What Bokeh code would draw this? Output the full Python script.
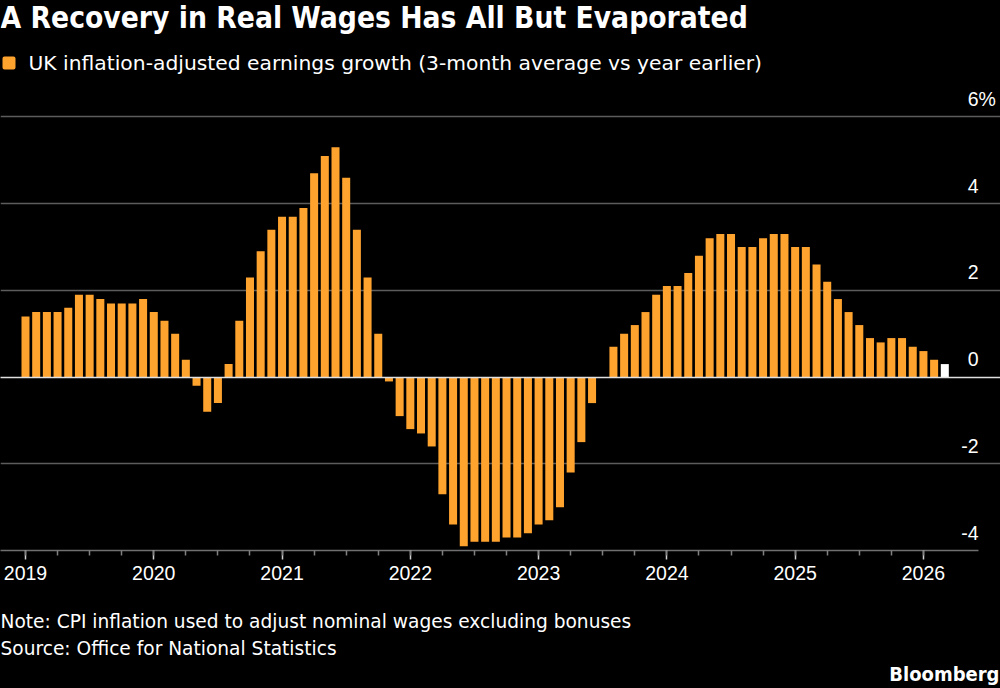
from bokeh.plotting import figure
from bokeh.layouts import column
from bokeh.models import ColumnDataSource, FixedTicker, Label, BoxAnnotation, Grid
from bokeh.core.properties import value
from bokeh.embed import file_html
from bokeh.resources import INLINE

# ---------------- data ----------------
start_year = 2019
# monthly values, Jan 2019 .. Mar 2026 (% change, 3m avg vs year earlier)
values_2019 = [1.4, 1.5, 1.5, 1.5, 1.6, 1.9, 1.9, 1.8, 1.7, 1.7, 1.7, 1.8]
values_2020 = [1.5, 1.3, 1.0, 0.4, -0.2, -0.8, -0.6, 0.3, 1.3, 2.3, 2.9, 3.4]
values_2021 = [3.7, 3.7, 3.9, 4.7, 5.1, 5.3, 4.6, 3.4, 2.3, 1.0, -0.1, -0.9]
values_2022 = [-1.2, -1.3, -1.6, -2.7, -3.4, -3.9, -3.8, -3.8, -3.8, -3.7, -3.7, -3.6]
values_2023 = [-3.4, -3.3, -3.0, -2.2, -1.5, -0.6, 0.0, 0.7, 1.0, 1.2, 1.5, 1.9]
values_2024 = [2.1, 2.1, 2.4, 2.8, 3.2, 3.3, 3.3, 3.0, 3.0, 3.2, 3.3, 3.3]
values_2025 = [3.0, 3.0, 2.6, 2.2, 1.8, 1.5, 1.2, 0.9, 0.8, 0.9, 0.9, 0.7]
values_2026 = [0.6, 0.4, 0.3]
values = (values_2019 + values_2020 + values_2021 + values_2022 +
          values_2023 + values_2024 + values_2025 + values_2026)

year_labels = ["2019", "2020", "2021", "2022", "2023", "2024", "2025", "2026"]
y_ticks = [-4, -2, 0, 2, 4, 6]
y_tick_labels = ["-4", "-2", "0", "2", "4", "6"]
unit_label = "%"

title_text = "A Recovery in Real Wages Has All But Evaporated"
legend_text = "UK inflation-adjusted earnings growth (3-month average vs year earlier)"
note_text = "Note: CPI inflation used to adjust nominal wages excluding bonuses"
source_text = "Source: Office for National Statistics"
brand_text = "Bloomberg"

# ---------------- style ----------------
ORANGE = "#FFA32F"
LATEST = "#FFFFFF"
TICK_FONT = "Liberation Sans"
BODY_FONT = "DejaVu Sans"
HEAD_FONT = "DejaVu Sans Condensed"
GRID = "#5c5c5c"
BLACK_BG = {"background-color": "black"}

X0, X1, XEDGE = -2.339, 91.21, 89.15   # visible range and right end of grid

n = len(values)
months = list(range(n))
colors = [ORANGE] * (n - 1) + [LATEST]
src = ColumnDataSource(dict(x=months, top=values, color=colors))

p = figure(width=1000, height=600,
           x_range=(X0, X1), y_range=(-4, 8.687),
           output_backend="svg", toolbar_location=None,
           y_axis_location=None,
           min_border_left=0, min_border_right=0,
           min_border_top=0, min_border_bottom=50)
p.background_fill_color = "black"
p.border_fill_color = "black"
p.outline_line_color = None
p.styles = BLACK_BG

p.xgrid.visible = False
p.ygrid.ticker = FixedTicker(ticks=[t for t in y_ticks if t not in (y_ticks[0], 0)])
p.ygrid.grid_line_color = GRID
p.ygrid.grid_line_width = 1.5
p.ygrid.bounds = (X0, XEDGE)

p.vbar(x="x", top="top", bottom=0, width=0.75, fill_color="color",
       line_color=None, source=src)

zero = Grid(dimension=1, ticker=FixedTicker(ticks=[0]), grid_line_color="#e0e0e0",
            grid_line_width=1.5, bounds=(X0, XEDGE), level="annotation")
p.add_layout(zero)

# y tick labels above the gridlines, right aligned at the grid's end
p.text(x=[XEDGE] * len(y_ticks), y=y_ticks, text=y_tick_labels,
       text_align="right", text_baseline="alphabetic", y_offset=-18,
       text_color="white", text_font=value(TICK_FONT), text_font_size="19.5px")
p.text(x=[XEDGE], y=[y_ticks[-1]], text=[unit_label],
       text_align="left", text_baseline="alphabetic", y_offset=-18,
       text_color="white", text_font=value(TICK_FONT), text_font_size="19.5px")

# x axis
year_pos = [12 * i for i in range(len(year_labels))]
ax = p.xaxis[0]
ax.ticker = FixedTicker(ticks=year_pos, minor_ticks=list(range(0, year_pos[-1] + 1, 3)))
ax.major_label_overrides = {pos: lab for pos, lab in zip(year_pos, year_labels)}
ax.bounds = (X0, XEDGE)
ax.axis_line_color = "#707070"
ax.axis_line_width = 1.5
ax.major_tick_in = 0
ax.major_tick_out = 9
ax.minor_tick_in = 0
ax.minor_tick_out = 5
ax.major_tick_line_color = "#d0d0d0"
ax.major_tick_line_width = 1.5
ax.minor_tick_line_color = "#808080"
ax.minor_tick_line_width = 1.5
ax.major_label_text_color = "white"
ax.major_label_text_font = TICK_FONT
ax.major_label_text_font_size = "19.5px"
ax.major_label_standoff = 6

# header (screen units relative to frame bottom-left at canvas y=550)
FB = 550
p.add_layout(Label(x=0, y=FB - 17, x_units="screen", y_units="screen", text=title_text,
                   text_color="white", text_font=HEAD_FONT, text_font_style="bold",
                   text_font_size="29.7px", text_baseline="alphabetic"))
p.add_layout(BoxAnnotation(left=2, right=15, bottom=FB - 69, top=FB - 56,
                           left_units="screen", right_units="screen",
                           bottom_units="screen", top_units="screen",
                           fill_color=ORANGE, fill_alpha=1, line_color=None,
                           border_radius=2))
p.add_layout(Label(x=28, y=FB - 62, x_units="screen", y_units="screen", text=legend_text,
                   text_color="white", text_font=BODY_FONT, text_font_size="20.3px",
                   text_baseline="alphabetic"))

# footer figure
FH = 88
f = figure(width=1000, height=FH, x_range=(0, 1000), y_range=(0, FH),
           output_backend="svg", toolbar_location=None,
           x_axis_location=None, y_axis_location=None,
           min_border_left=0, min_border_right=0, min_border_top=0, min_border_bottom=0)
f.background_fill_color = "black"
f.border_fill_color = "black"
f.outline_line_color = None
f.grid.visible = False
f.styles = BLACK_BG
# canvas baselines: note 628, source 655, brand 681 -> footer starts at canvas y 600
f.add_layout(Label(x=0, y=FH - 21, x_units="screen", y_units="screen", text=note_text,
                   text_color="white", text_font=BODY_FONT, text_font_size="18.6px",
                   text_baseline="alphabetic"))
f.add_layout(Label(x=0, y=FH - 48, x_units="screen", y_units="screen", text=source_text,
                   text_color="white", text_font=BODY_FONT, text_font_size="18.6px",
                   text_baseline="alphabetic"))
f.add_layout(Label(x=999, y=FH - 73, x_units="screen", y_units="screen", text=brand_text,
                   text_color="white", text_font=HEAD_FONT, text_font_style="bold",
                   text_font_size="20px", text_baseline="alphabetic", text_align="right"))

layout = column(p, f, spacing=0, styles=BLACK_BG)
open("out.html", "w").write(file_html(layout, INLINE))
